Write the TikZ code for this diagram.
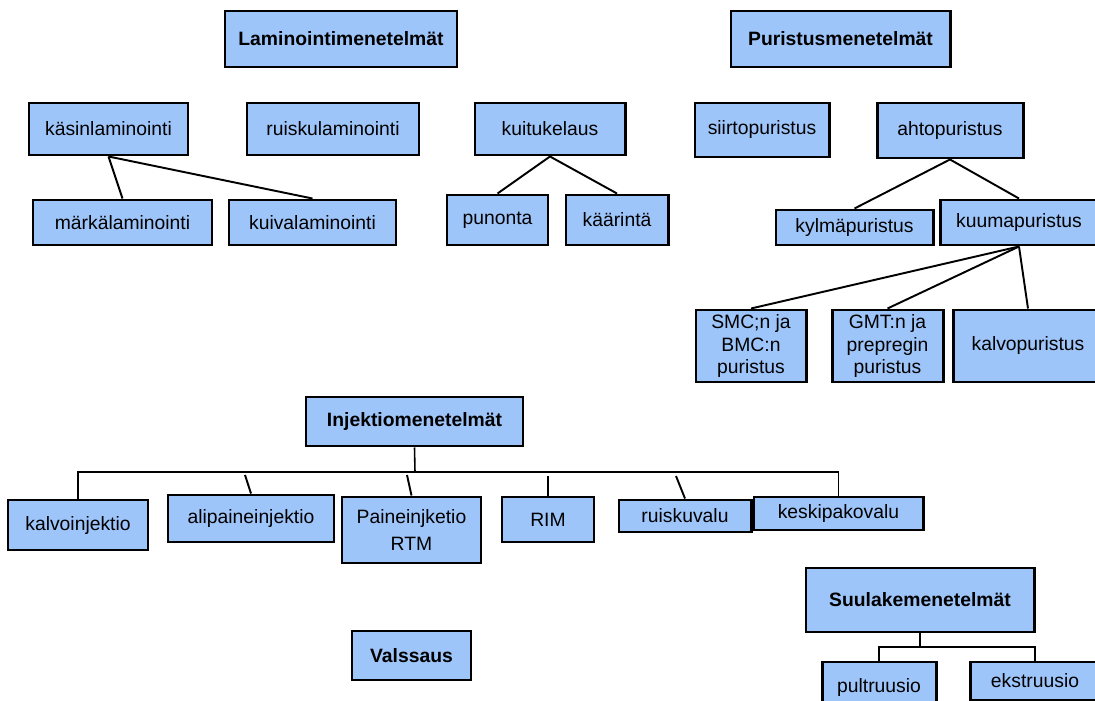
\documentclass[tikz,border=0pt]{standalone}
\usepackage{fontspec}
\setmainfont{Liberation Sans}
\definecolor{boxblue}{RGB}{158,197,250}
\tikzset{
  box/.style={draw, line width=1.7pt, fill=boxblue, align=center, inner sep=0pt,
    font=\fontsize{11}{13}\selectfont},
  head/.style={box, font=\fontsize{11}{13}\selectfont\bfseries},
  link/.style={line width=1.1pt},
  bar/.style={line width=0.9pt}
}
\begin{document}
\begin{tikzpicture}[x=0.2mm, y=-0.2mm]
    \useasboundingbox (0,0) rectangle (1095,701);
    % laminointi
    \node[head, minimum width=4.64cm, minimum height=1.12cm] (lam) at (341,39) {Laminointimenetelmät};
    \node[box, minimum width=3.18cm, minimum height=1.04cm] (kasin) at (108.5,129) {käsinlaminointi};
    \node[box, minimum width=3.44cm, minimum height=1.04cm] (ruiskulam) at (333,129) {ruiskulaminointi};
    \node[box, minimum width=3.00cm, minimum height=1.04cm] (kuitu) at (550,129) {kuitukelaus};
    \node[box, minimum width=3.58cm, minimum height=0.90cm] (marka) at (122.5,222.5) {märkälaminointi};
    \node[box, minimum width=3.34cm, minimum height=0.90cm] (kuiva) at (312.5,222.5) {kuivalaminointi};
    \node[box, minimum width=2.02cm, minimum height=1.00cm] (punonta) at (497.5,220) {punonta};
    \node[box, minimum width=2.04cm, minimum height=1.00cm] (kaarinta) at (617,220) {käärintä};
    \draw[link] (kasin.south) -- (marka.north);
    \draw[link] (kasin.south) -- (kuiva.north);
    \draw[link] (kuitu.south) -- (punonta.north);
    \draw[link] (kuitu.south) -- (kaarinta.north);
    % puristus
    \node[head, minimum width=4.38cm, minimum height=1.12cm] (pur) at (840.5,39) {Puristusmenetelmät};
    \node[box, minimum width=2.68cm, minimum height=1.08cm] (siirto) at (762,130) {siirtopuristus};
    \node[box, minimum width=2.92cm, minimum height=1.10cm] (ahto) at (950,130.5) {ahtopuristus};
    \node[box, minimum width=3.14cm, minimum height=0.70cm] (kylma) at (854.5,227.5) {kylmäpuristus};
    \node[box, minimum width=3.16cm, minimum height=0.90cm] (kuuma) at (1019,222.5) {kuumapuristus};
    \node[box, minimum width=2.20cm, minimum height=1.44cm] (smc) at (751,346) {SMC;n ja\\BMC:n\\puristus};
    \node[box, minimum width=2.22cm, minimum height=1.44cm] (gmt) at (887.5,346) {GMT:n ja\\prepregin\\puristus};
    \node[box, minimum width=3.00cm, minimum height=1.44cm] (kalvop) at (1028,346) {kalvopuristus};
    \draw[link] (ahto.south) -- (kylma.north);
    \draw[link] (ahto.south) -- (kuuma.north);
    \draw[link] (kuuma.south) -- (smc.north);
    \draw[link] (kuuma.south) -- (gmt.north);
    \draw[link] (kuuma.south) -- (kalvop.north);
    % injektio
    \node[head, minimum width=4.34cm, minimum height=0.98cm] (inj) at (414.5,421.5) {Injektiomenetelmät};
    \node[box, minimum width=2.80cm, minimum height=1.00cm] (kalvoinj) at (78,525) {kalvoinjektio};
    \node[box, minimum width=3.32cm, minimum height=0.94cm] (alipaine) at (251,518.5) {alipaineinjektio};
    \node[box, minimum width=2.78cm, minimum height=1.32cm] (paine) at (411.5,530) {Paineinjketio\\[2pt]RTM};
    \node[box, minimum width=1.84cm, minimum height=0.90cm] (rim) at (548,519.5) {RIM};
    \node[box, minimum width=2.64cm, minimum height=0.64cm] (ruiskuvalu) at (685,516) {ruiskuvalu};
    \node[box, minimum width=3.38cm, minimum height=0.66cm] (keskipako) at (838.5,513.5) {keskipakovalu};
    \coordinate (ibar) at (415,472);
    \coordinate (ialip) at (245,475);
    \coordinate (ipain) at (407,475);
    \coordinate (irim) at (548,476);
    \coordinate (iruis) at (676,476);
    \draw[bar] (inj.south) -- (ibar);
    \draw[bar] (kalvoinj.north) |- (ibar) -| (keskipako.north);
    \draw[link] (ialip) -- (alipaine.north);
    \draw[link] (ipain) -- (paine.north);
    \draw[link] (irim) -- (rim.north);
    \draw[link] (iruis) -- (ruiskuvalu.north);
    % suulake ja valssaus
    \node[head, minimum width=4.56cm, minimum height=1.28cm] (suul) at (920,600) {Suulakemenetelmät};
    \node[box, minimum width=2.28cm, minimum height=1.00cm] (pult) at (879,687) {pultruusio};
    \node[box, minimum width=2.60cm, minimum height=0.76cm] (ekstr) at (1035,681) {ekstruusio};
    \node[head, minimum width=2.38cm, minimum height=0.98cm] (valssaus) at (411.5,655.5) {Valssaus};
    \coordinate (sbar) at (920,647);
    \draw[bar] (suul.south) -- (sbar);
    \draw[bar] (pult.north) |- (sbar) -| (ekstr.north);
\end{tikzpicture}
\end{document}
